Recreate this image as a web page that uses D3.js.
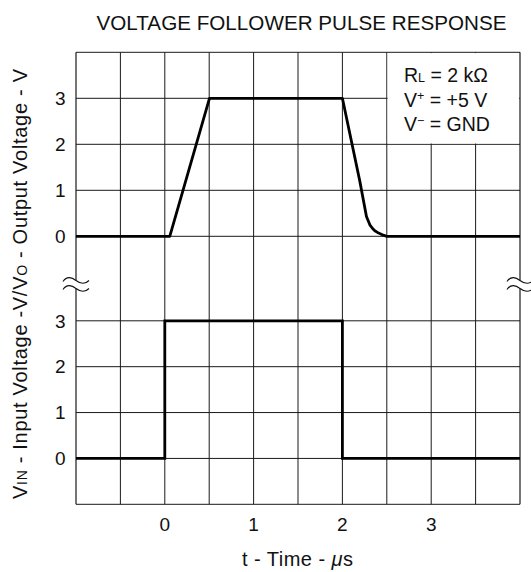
<!DOCTYPE html>
<html>
<head>
<meta charset="utf-8">
<script src="https://cdn.jsdelivr.net/npm/d3@7"></script>
<style>
  html, body { margin: 0; padding: 0; background: #fff; }
  svg { display: block; font-family: "Liberation Sans", Arial, sans-serif; }
</style>
</head>
<body>
<svg id="chart" width="531" height="572"></svg>
<script>
// ---- data ----
const title = "VOLTAGE FOLLOWER PULSE RESPONSE";
const timeTicks = [0, 1, 2, 3];
const voltTicks = [0, 1, 2, 3];
// output (upper trace)
const outTime = [-1, 0.056, 0.503, 2.0, 2.196, 2.271, 2.309, 2.34, 2.365, 2.395, 2.421, 2.46, 2.5, 4];
const outVolt = [0, 0, 3, 3, 1.2, 0.43, 0.25, 0.17, 0.12, 0.085, 0.06, 0.025, 0, 0];
// input (lower trace)
const inTime = [-1, 0, 0, 2, 2, 4];
const inVolt = [0, 0, 3, 3, 0, 0];

const svg = d3.select("#chart");
const L = 76, R = 520, T = 52.3, B = 504.3;

const x = d3.scaleLinear().domain([-1, 4]).range([L, R]);
const yUp = d3.scaleLinear().domain([0, 4]).range([236.3, T]);
const yLo = d3.scaleLinear().domain([-1, 3]).range([B, 320.8]);

const g = svg.append("g");

// vertical grid (interior)
const vGrid = d3.range(-0.5, 4, 0.5);
g.selectAll("line.vg").data(vGrid).enter().append("line")
  .attr("x1", d => x(d)).attr("x2", d => x(d))
  .attr("y1", T).attr("y2", B)
  .attr("stroke", "#1a1a1a").attr("stroke-width", 1);

// horizontal grid
g.selectAll("line.hu").data([0, 1, 2, 3, 4]).enter().append("line")
  .attr("x1", L).attr("x2", R)
  .attr("y1", d => yUp(d)).attr("y2", d => yUp(d))
  .attr("stroke", "#1a1a1a").attr("stroke-width", 1);
g.selectAll("line.hl").data([-1, 0, 1, 2, 3]).enter().append("line")
  .attr("x1", L).attr("x2", R)
  .attr("y1", d => yLo(d)).attr("y2", d => yLo(d))
  .attr("stroke", "#1a1a1a").attr("stroke-width", 1);

// legend box background (covers grid cells)
g.append("rect")
  .attr("x", x(2.5) + 0.8).attr("y", T + 0.8)
  .attr("width", x(4) - x(2.5) - 1.6).attr("height", yUp(2) - T - 1.6)
  .attr("fill", "#fff");

// border lines with break
const breakA = 280.5, breakB = 288.5;
[L, R].forEach(xx => {
  g.append("line").attr("x1", xx).attr("x2", xx).attr("y1", T).attr("y2", breakA)
    .attr("stroke", "#1a1a1a").attr("stroke-width", 1.2);
  g.append("line").attr("x1", xx).attr("x2", xx).attr("y1", breakB).attr("y2", B)
    .attr("stroke", "#1a1a1a").attr("stroke-width", 1.2);
  g.append("rect").attr("x", xx - 3).attr("y", breakA).attr("width", 6).attr("height", breakB - breakA).attr("fill", "#fff");
  [breakA, breakB].forEach(yy => {
    g.append("path")
      .attr("d", `M${xx - 13},${yy + 1} C${xx - 9},${yy - 5} ${xx - 4},${yy - 3} ${xx},${yy} S${xx + 9},${yy + 4} ${xx + 13},${yy}`)
      .attr("fill", "none").attr("stroke", "#111").attr("stroke-width", 1.1);
  });
});

// traces
const outData = outTime.map((t, i) => [t, outVolt[i]]);
const inData = inTime.map((t, i) => [t, inVolt[i]]);
g.append("path").datum(outData)
  .attr("d", d3.line().x(d => x(d[0])).y(d => yUp(d[1])).curve(d3.curveLinear))
  .attr("fill", "none").attr("stroke", "#000").attr("stroke-width", 2.8).attr("stroke-linejoin", "round");
g.append("path").datum(inData)
  .attr("d", d3.line().x(d => x(d[0])).y(d => yLo(d[1])))
  .attr("fill", "none").attr("stroke", "#000").attr("stroke-width", 2.8).attr("stroke-linejoin", "miter");

// y tick labels
const fs = 19;
[yUp, yLo].forEach(sc => {
  g.selectAll(null).data(voltTicks).enter().append("text")
    .attr("x", 65.5).attr("y", d => sc(d) + 6.8)
    .attr("text-anchor", "end").attr("font-size", fs).attr("fill", "#111")
    .text(d => d);
});
// x tick labels
g.selectAll(null).data(timeTicks).enter().append("text")
  .attr("x", d => x(d)).attr("y", 530.7)
  .attr("text-anchor", "middle").attr("font-size", fs).attr("fill", "#111")
  .text(d => d);

// title
svg.append("text").attr("x", 301.5).attr("y", 30)
  .attr("text-anchor", "middle").attr("font-size", 20.3).attr("fill", "#111")
  .attr("textLength", 410).attr("lengthAdjust", "spacingAndGlyphs")
  .text(title);

// x label
const xl = svg.append("text").attr("x", 297.5).attr("y", 566)
  .attr("text-anchor", "middle").attr("font-size", 20).attr("fill", "#111")
  .attr("textLength", 111).attr("lengthAdjust", "spacing");
xl.append("tspan").text("t - Time - ");
xl.append("tspan").attr("font-style", "italic").text("μ");
xl.append("tspan").text("s");

// y label
const yl = svg.append("text").attr("transform", "translate(27,284) rotate(-90)")
  .attr("text-anchor", "middle").attr("font-size", 20).attr("fill", "#111")
  .attr("textLength", 430).attr("lengthAdjust", "spacing");
yl.append("tspan").text("V");
yl.append("tspan").attr("font-size", 14).text("IN");
yl.append("tspan").text(" - Input Voltage -V/V");
yl.append("tspan").attr("font-size", 14).text("O");
yl.append("tspan").text(" - Output Voltage - V");

// legend
const lx = 404, lfs = 19.5;
const l1 = svg.append("text").attr("x", lx).attr("y", 82.3).attr("font-size", lfs).attr("fill", "#111");
l1.append("tspan").text("R");
l1.append("tspan").attr("font-size", 12.5).text("L");
l1.append("tspan").text(" = 2 kΩ");
const l2 = svg.append("text").attr("x", lx).attr("y", 106.6).attr("font-size", lfs).attr("fill", "#111");
l2.append("tspan").text("V");
l2.append("tspan").attr("font-size", 12.5).attr("dy", -6.5).text("+");
l2.append("tspan").attr("dy", 6.5).text(" = +5 V");
const l3 = svg.append("text").attr("x", lx).attr("y", 131).attr("font-size", lfs).attr("fill", "#111");
l3.append("tspan").text("V");
l3.append("tspan").attr("font-size", 12.5).attr("dy", -6.5).text("−");
l3.append("tspan").attr("dy", 6.5).text(" = GND");
</script>
</body>
</html>
